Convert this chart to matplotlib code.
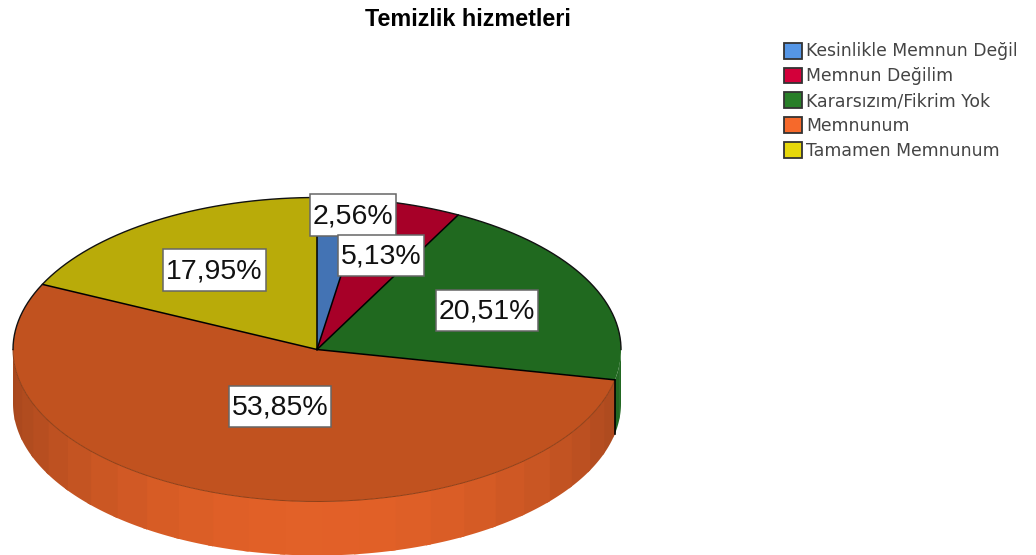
import numpy as np
import matplotlib
matplotlib.use("Agg")
import matplotlib.pyplot as plt
from matplotlib.patches import Patch, Polygon, Rectangle

title = "Temizlik hizmetleri"
categories = ["Kesinlikle Memnun Değil", "Memnun Değilim", "Kararsızım/Fikrim Yok", "Memnunum", "Tamamen Memnunum"]
values = [2.56, 5.13, 20.51, 53.85, 17.95]
labels = ["2,56%", "5,13%", "20,51%", "53,85%", "17,95%"]
top_colors = ["#4373B4", "#A70028", "#20691F", "#C1521F", "#B9AB09"]
legend_colors = ["#5596E6", "#D3003A", "#297F29", "#F6692B", "#E6D70B"]

W, H = 1036, 555
CX, CY, RX, RY, DEPTH = 317, 349.5, 304, 152, 54

fig = plt.figure(figsize=(W / 100, H / 100), dpi=100)
ax = fig.add_axes([0, 0, 1, 1])
ax.pie(values, colors=top_colors, startangle=90, counterclock=False, radius=1,
       wedgeprops=dict(edgecolor="none", linewidth=0))
ax.set_aspect("auto")
ax.set_xlim(-CX / RX, (W - CX) / RX)
ax.set_ylim((CY - H) / RY, CY / RY)
ax.set_axis_off()


def px(x, y):
    return (x - CX) / RX, (CY - y) / RY


def arc(a0, a1, n=200):
    t = np.radians(np.linspace(a0, a1, n))
    return np.sin(t), np.cos(t)


# side wall, per slice, in bands of 7 degrees
depth = DEPTH / RY
cum = np.concatenate([[0], np.cumsum(values)]) / sum(values) * 360
for i, base in enumerate(legend_colors):
    a0, a1 = max(cum[i], 90), min(cum[i + 1], 270)
    if a0 >= a1:
        continue
    edges = np.unique(np.concatenate([[a0, a1], np.arange(95, 270, 7.0)]))
    edges = edges[(edges >= a0) & (edges <= a1)]
    rgb = np.array(matplotlib.colors.to_rgb(base))
    for s, e in zip(edges[:-1], edges[1:]):
        x, y = arc(s, min(e + 1, a1), 10)
        m = np.radians((s + e) / 2)
        shade = 0.68 + 0.24 * max(-np.cos(m), 0) ** 1.5
        if i == 2:
            shade = 0.82
        poly = np.column_stack([np.r_[x, x[::-1]], np.r_[y, y[::-1] - depth]])
        ax.add_patch(Polygon(poly, closed=True, facecolor=rgb * shade,
                             edgecolor="none", linewidth=0, zorder=0.5))

# black wedge edges: radii and the back of the rim; soft rim in front
for a in cum[:-1]:
    x, y = arc(a, a, 1)
    ax.plot([0, x[0]], [0, y[0]], color="black", lw=1.1, zorder=3, solid_capstyle="round")
x, y = arc(270, 450)
ax.plot(x, y, color="#111111", lw=1.0, zorder=3)
x, y = arc(cum[3], 270)
ax.plot(x, y, color="#8E3F17", lw=0.7, zorder=2.5)
x, y = arc(cum[3], cum[3], 1)
ax.plot([x[0], x[0]], [y[0], y[0] - depth], color="black", lw=1.2, zorder=3)

label_boxes = [(310, 194, 396, 236), (338, 235, 424, 276), (436, 290, 538, 331),
               (229, 386, 331, 427), (163, 249, 266, 291)]
for k, (lab, (x0, y0, x1, y1)) in enumerate(zip(labels, label_boxes)):
    ax0, ay1 = px(x0, y0)
    ax1, ay0 = px(x1, y1)
    ax.add_patch(Rectangle((ax0, ay0), ax1 - ax0, ay1 - ay0, facecolor="white",
                           edgecolor="#666666", linewidth=1.1, zorder=5 + k))
    ax.text((ax0 + ax1) / 2, (ay0 + ay1) / 2 + 1.5 / RY, lab, ha="center", va="center_baseline",
            fontsize=20.5, family="Liberation Sans", color="#111111", zorder=5 + k)

fig.text(468 / W, 1 - 19 / H, title, ha="center", va="center", fontsize=16.8,
         fontweight="bold", family="Liberation Sans", color="black")

handles = [Patch(facecolor=c, edgecolor="#333333", linewidth=1.3) for c in legend_colors]
fig.legend(handles, categories, loc="upper left", bbox_to_anchor=(784 / W, 1 - 42.5 / H),
           frameon=False, labelcolor="#444444", borderpad=0, borderaxespad=0,
           handlelength=1.05, handleheight=1.05, handletextpad=0.22, labelspacing=0.4,
           prop=dict(family="DejaVu Sans", size=12.4))

fig.savefig("out.png", dpi=100)
